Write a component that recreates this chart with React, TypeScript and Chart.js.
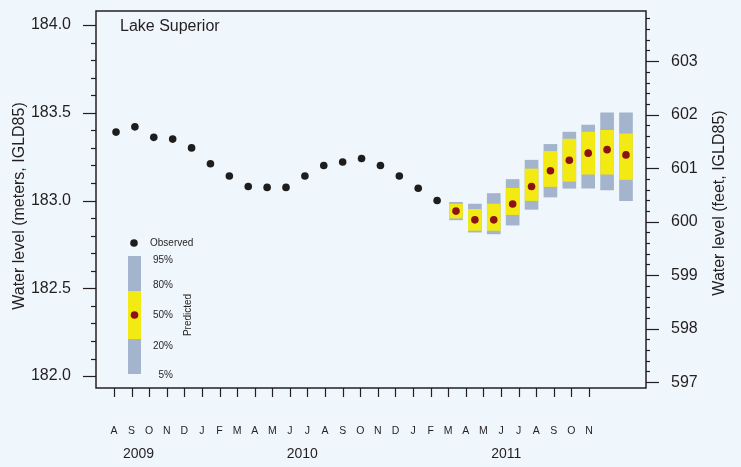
import React, { useEffect, useRef } from 'react';
import { Chart, registerables } from 'chart.js';
Chart.register(...registerables);

// ---------- data ----------
const MONTH_LABELS = ['A','S','O','N','D','J','F','M','A','M','J','J','A','S','O','N','D','J','F','M','A','M','J','J','A','S','O','N'];
const YEAR_LABELS = ['2009', '2010', '2011'];
const YEAR_POSITIONS = [1.4, 10.7, 22.3]; // positions along the month-label axis

// Observed monthly levels, Aug 2009 – Jan 2011 (m, IGLD85)
const OBSERVED = [183.39, 183.42, 183.36, 183.35, 183.30, 183.21, 183.14, 183.08, 183.075, 183.075, 183.14, 183.20, 183.22, 183.24, 183.20, 183.14, 183.07, 183.00];

// Predicted percentiles, Feb 2011 – Nov 2011 (m)
const PRED_5  = [182.89, 182.82, 182.81, 182.86, 182.95, 183.02, 183.07, 183.07, 183.06, 183.00];
const PRED_20 = [182.90, 182.83, 182.83, 182.92, 183.00, 183.08, 183.11, 183.15, 183.15, 183.12];
const PRED_50 = [182.94, 182.89, 182.89, 182.98, 183.08, 183.17, 183.23, 183.27, 183.29, 183.26];
const PRED_80 = [182.98, 182.95, 182.98, 183.07, 183.18, 183.28, 183.35, 183.39, 183.40, 183.38];
const PRED_95 = [182.99, 182.98, 183.04, 183.12, 183.23, 183.32, 183.39, 183.43, 183.50, 183.50];

const LEFT_TICKS = [182.0, 182.5, 183.0, 183.5, 184.0];
const RIGHT_TICKS = [597, 598, 599, 600, 601, 602, 603];
const M_PER_FT = 0.3048;

const Y_MIN = 181.932;
const Y_MAX = 184.08;

// ---------- style ----------
const FONT = '"Liberation Sans", Arial, Helvetica, sans-serif';
const INK = '#231f20';
const BG = '#eff7fc';
const GRAY = '#a3b4cc';
const YELLOW = '#f3ea14';
const RED = '#8c1215';
const BLACK = '#1d1d1d';

const obsData = OBSERVED.map((v, i) => ({ x: i, y: v }));
const predX = (i: number) => OBSERVED.length + i;
const outerData = PRED_5.map((lo, i) => ({ x: predX(i), y: [lo, PRED_95[i]] }));
const innerData = PRED_20.map((lo, i) => ({ x: predX(i), y: [lo, PRED_80[i]] }));
const medData = PRED_50.map((v, i) => ({ x: predX(i), y: v }));

const decorPlugin = {
  id: 'decor',
  afterDraw(chart: any) {
    const { ctx, chartArea: a, scales } = chart;
    const yL = scales.y, yR = scales.yR, xL = scales.xL;
    ctx.save();
    ctx.strokeStyle = INK;
    ctx.lineWidth = 1.5;
    ctx.strokeRect(a.left, a.top, a.right - a.left, a.bottom - a.top);

    const line = (x1: number, y1: number, x2: number, y2: number) => {
      ctx.beginPath(); ctx.moveTo(x1, y1); ctx.lineTo(x2, y2); ctx.stroke();
    };
    ctx.lineWidth = 1.2;
    // left ticks every 0.1 m
    for (let k = Math.ceil(yL.min * 10 - 1e-6); k <= Math.floor(yL.max * 10 + 1e-6); k++) {
      const py = Math.round(yL.getPixelForValue(k / 10)) + 0.5;
      const major = k % 5 === 0;
      line(a.left - (major ? 13 : 5), py, a.left, py);
    }
    // right ticks every 0.2 ft
    for (let k = Math.ceil(yR.min * 5 - 1e-6); k <= Math.floor(yR.max * 5 + 1e-6); k++) {
      const py = Math.round(yR.getPixelForValue(k / 5)) + 0.5;
      const major = k % 5 === 0;
      line(a.right, py, a.right + (major ? 13 : 4), py);
    }
    // bottom ticks
    xL.ticks.forEach((t: any) => {
      const px = Math.round(xL.getPixelForValue(t.value)) + 0.5;
      line(px, a.bottom, px, a.bottom + 9);
    });

    ctx.fillStyle = INK;
    // years
    ctx.font = `14px ${FONT}`;
    ctx.textAlign = 'center';
    ctx.textBaseline = 'middle';
    YEAR_LABELS.forEach((y, i) => {
      ctx.fillText(y, xL.getPixelForValue(YEAR_POSITIONS[i]), 454);
    });

    // axis titles
    ctx.font = `16px ${FONT}`;
    ctx.save();
    ctx.translate(20, 206);
    ctx.rotate(-Math.PI / 2);
    ctx.fillText('Water level (meters, IGLD85)', 0, 0);
    ctx.restore();
    ctx.save();
    ctx.translate(720, 203);
    ctx.rotate(-Math.PI / 2);
    ctx.fillText('Water level (feet, IGLD85)', 0, 0);
    ctx.restore();

    // panel label
    ctx.textAlign = 'left';
    ctx.fillText('Lake Superior', a.left + 24, 27);

    // legend
    ctx.fillStyle = BLACK;
    ctx.beginPath(); ctx.arc(134, 243, 3.8, 0, Math.PI * 2); ctx.fill();
    ctx.fillStyle = INK;
    ctx.font = `10px ${FONT}`;
    ctx.fillText('Observed', 150, 243);
    ctx.fillStyle = GRAY;
    ctx.fillRect(128, 256, 13, 118);
    ctx.fillStyle = YELLOW;
    ctx.fillRect(128, 291, 13, 48);
    ctx.fillStyle = RED;
    ctx.beginPath(); ctx.arc(134.5, 315, 3.8, 0, Math.PI * 2); ctx.fill();
    ctx.fillStyle = INK;
    ctx.textAlign = 'right';
    [['95%', 260], ['80%', 285], ['50%', 315], ['20%', 346], ['5%', 375]].forEach(([t, y]) => {
      ctx.fillText(t as string, 173, y as number);
    });
    ctx.save();
    ctx.translate(188, 315);
    ctx.rotate(-Math.PI / 2);
    ctx.textAlign = 'center';
    ctx.fillText('Predicted', 0, 0);
    ctx.restore();

    ctx.restore();
  },
};

export default function App() {
  const ref = useRef<HTMLCanvasElement>(null);
  useEffect(() => {
    const chart = new Chart(ref.current as HTMLCanvasElement, {
      type: 'bar',
      data: {
        datasets: [
          {
            type: 'scatter',
            label: 'Observed',
            data: obsData,
            xAxisID: 'x', yAxisID: 'y',
            pointRadius: 3.8,
            pointBackgroundColor: BLACK,
            pointBorderWidth: 0,
            showLine: false,
            order: 0,
          } as any,
          {
            type: 'scatter',
            label: '50%',
            data: medData,
            xAxisID: 'x', yAxisID: 'y',
            pointRadius: 3.8,
            pointBackgroundColor: RED,
            pointBorderWidth: 0,
            showLine: false,
            order: 1,
          } as any,
          {
            type: 'bar',
            label: '20-80%',
            data: innerData as any,
            xAxisID: 'x', yAxisID: 'y',
            backgroundColor: YELLOW,
            borderWidth: 0,
            barThickness: 13,
            grouped: false,
            order: 2,
          } as any,
          {
            type: 'bar',
            label: '5-95%',
            data: outerData as any,
            xAxisID: 'x', yAxisID: 'y',
            backgroundColor: GRAY,
            borderWidth: 0,
            barThickness: 13,
            grouped: false,
            order: 3,
          } as any,
        ],
      },
      options: {
        animation: false,
        responsive: false,
        layout: { padding: { top: 11, left: 0, right: 0, bottom: 0 } },
        plugins: { legend: { display: false }, tooltip: { enabled: false } },
        scales: {
          x: {
            type: 'linear',
            display: false,
            offset: false,
            min: -1.06,
            max: 28.06,
          },
          xL: {
            type: 'linear',
            position: 'bottom',
            offset: false,
            min: -1.02,
            max: 30.24,
            grid: { display: false, drawTicks: false },
            border: { display: false },
            afterBuildTicks: (s: any) => { s.ticks = MONTH_LABELS.map((_, i) => ({ value: i })); },
            afterFit: (s: any) => { s.height = 79; s.paddingLeft = 0; s.paddingRight = 0; },
            ticks: {
              autoSkip: false,
              maxRotation: 0,
              minRotation: 0,
              padding: 37,
              color: INK,
              font: { family: FONT, size: 10.5 },
              callback: (v: any) => MONTH_LABELS[Math.round(v)] ?? '',
            },
          },
          y: {
            type: 'linear',
            position: 'left',
            min: Y_MIN,
            max: Y_MAX,
            grid: { display: false, drawTicks: false },
            border: { display: false },
            afterBuildTicks: (s: any) => { s.ticks = LEFT_TICKS.map((v) => ({ value: v })); },
            afterFit: (s: any) => { s.width = 96; s.paddingTop = 0; s.paddingBottom = 0; },
            ticks: {
              autoSkip: false,
              padding: 25,
              color: INK,
              font: { family: FONT, size: 16 },
              callback: (v: any) => Number(v).toFixed(1),
            },
          },
          yR: {
            type: 'linear',
            position: 'right',
            min: Y_MIN / M_PER_FT,
            max: Y_MAX / M_PER_FT,
            grid: { display: false, drawTicks: false },
            border: { display: false },
            afterBuildTicks: (s: any) => { s.ticks = RIGHT_TICKS.map((v) => ({ value: v })); },
            afterFit: (s: any) => { s.width = 95; s.paddingTop = 0; s.paddingBottom = 0; },
            ticks: {
              autoSkip: false,
              padding: 25,
              color: INK,
              font: { family: FONT, size: 16 },
              callback: (v: any) => String(Math.round(Number(v))),
            },
          },
        },
      } as any,
      plugins: [decorPlugin],
    });
    return () => chart.destroy();
  }, []);
  return (
    <div style={{ position: 'fixed', left: 0, top: 0, width: 741, height: 467, background: BG }}>
      <canvas ref={ref} width={741} height={467} style={{ display: 'block' }} />
    </div>
  );
}
